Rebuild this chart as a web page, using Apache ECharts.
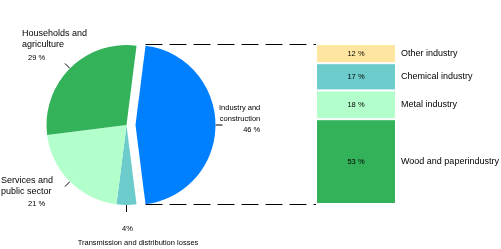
<!DOCTYPE html>
<html><head><meta charset="utf-8">
<style>html,body{margin:0;padding:0;background:#fff}#c{width:501px;height:249px}</style>
<script src="https://cdn.jsdelivr.net/npm/echarts@6/dist/echarts.min.js"></script>
</head><body><div id="c"></div>
<script>
// ---- data ----
const pieNames = ['Industry and construction', 'Transmission and distribution losses', 'Services and public sector', 'Households and agriculture'];
const pieLabelLines = [['Industry and', 'construction'], ['Transmission and distribution losses'], ['Services and', 'public sector'], ['Households and', 'agriculture']];
const pieValues = [46, 4, 21, 29];
const pieColors = ['#0080ff', '#6ccccc', '#b3ffcc', '#33b25a'];
const explodedIndex = 0;

const barCategory = ['Industry'];
const barNames = ['Wood and paperindustry', 'Metal industry', 'Chemical industry', 'Other industry'];
const barValues = [53, 18, 17, 12];
const barColors = ['#33b25a', '#b3ffcc', '#6ccccc', '#ffe6a0'];

// ---- fonts ----
function hasFont(name) {
  const c = document.createElement('canvas').getContext('2d');
  c.font = '20px monospace';
  const a = c.measureText('Transmission and distribution').width;
  c.font = '20px "' + name + '", monospace';
  const b = c.measureText('Transmission and distribution').width;
  return Math.abs(a - b) > 0.5;
}
const NORMAL = 'Liberation Sans';
let NARROW = 'Liberation Sans', NARROW_SIZE = 7.5;
if (hasFont('Liberation Sans Narrow')) { NARROW = 'Liberation Sans Narrow'; NARROW_SIZE = 9; }

// ---- layout ----
const PIE_CX = 126.5, PIE_CY = 125, PIE_R = 80, PIE_OFFSET = 9;
const BAR_W = 80;

const chart = echarts.init(document.getElementById('c'), null, {renderer: 'canvas'});

const nStyle = {fontFamily: NORMAL, fontSize: 9, color: '#000', lineHeight: 11};
const pStyle = {fontFamily: NARROW, fontSize: NARROW_SIZE, color: '#000', lineHeight: 11};

const labelPlace = [
  {x: 219, y: 102.5, align: 'left'},
  {x: 138, y: 222, align: 'center'},
  {x: 1, y: 175.5, align: 'left'},
  {x: 22, y: 28.5, align: 'left'}
];

function pieFormatter(p) {
  const i = p.dataIndex;
  const pct = p.value + ' %';
  const lines = pieLabelLines[i];
  if (i === 0) return '{na|' + lines[0] + '}\n{na|' + lines[1] + '}\n{pa|' + pct + '}';
  if (i === 1) return '{p4|' + p.value + '%}\n{nt|' + lines[0] + '}';
  if (i === 2) return '{n|' + lines[0] + '}\n{n|' + lines[1] + '}\n{p21|' + pct + '}';
  return '{n|' + lines[0] + '}\n{n|' + lines[1] + '}\n{p29|' + pct + '}';
}

const startAngle = 90 - (180 - pieValues[explodedIndex] / 100 * 360) / 2;

function pieSeries(cx, showExploded) {
  return {
    type: 'pie',
    center: [cx, PIE_CY],
    radius: PIE_R,
    startAngle: startAngle,
    clockwise: true,
    animation: false,
    silent: true,
    emphasis: {disabled: true},
    avoidLabelOverlap: false,
    itemStyle: {borderWidth: 0},
    data: pieValues.map((v, i) => {
      const visible = (i === explodedIndex) === showExploded;
      return {
        value: v, name: pieNames[i],
        itemStyle: {color: visible ? pieColors[i] : 'rgba(0,0,0,0)'},
        label: {show: visible},
        labelLine: {show: visible}
      };
    }),
    label: {
      show: true, position: 'outside', formatter: pieFormatter,
      rich: {
        n: Object.assign({}, nStyle, {align: 'left'}),
        na: Object.assign({}, pStyle, {align: 'right'}),
        pa: Object.assign({}, pStyle, {align: 'right'}),
        nt: Object.assign({}, pStyle, {align: 'center', lineHeight: 14}),
        p4: Object.assign({}, pStyle, {align: 'center', lineHeight: 14, padding: [0, 21, 0, 0]}),
        p21: Object.assign({}, pStyle, {align: 'left', lineHeight: 13, padding: [0, 0, 0, 27]}),
        p29: Object.assign({}, pStyle, {align: 'left', lineHeight: 14, padding: [0, 0, 0, 6]})
      }
    },
    labelLine: {show: true, length: 7, length2: 0, lineStyle: {color: '#000', width: 1}},
    labelLayout: function (p) {
      const lp = labelPlace[p.dataIndex];
      return {x: lp.x, y: lp.y, align: lp.align, verticalAlign: 'top', labelLinePoints: p.labelLinePoints};
    }
  };
}

const series = [pieSeries(PIE_CX, false), pieSeries(PIE_CX + PIE_OFFSET, true)];

barValues.forEach((v, i) => {
  series.push({
    type: 'bar', name: barNames[i], stack: 'vals', xAxisIndex: 0, yAxisIndex: 0,
    barWidth: BAR_W, barGap: '-100%', animation: false, emphasis: {disabled: true},
    data: [v],
    itemStyle: {color: barColors[i], borderColor: '#fff', borderWidth: 1},
    label: {show: true, position: 'inside', formatter: '{c} %', color: '#000', fontFamily: NARROW, fontSize: NARROW_SIZE}
  });
});
barValues.forEach((v, i) => {
  series.push({
    type: 'bar', name: barNames[i] + ' ', stack: 'names', xAxisIndex: 0, yAxisIndex: 0,
    barWidth: BAR_W, barGap: '-100%', animation: false, emphasis: {disabled: true}, silent: true,
    data: [v],
    itemStyle: {color: 'rgba(0,0,0,0)'},
    label: {show: true, position: 'right', distance: 5, formatter: barNames[i], color: '#000', fontFamily: NORMAL, fontSize: 9}
  });
});

chart.setOption({
  animation: false,
  backgroundColor: '#fff',
  grid: {left: 316, top: 44, width: BAR_W, height: 160},
  xAxis: {type: 'category', data: barCategory, show: false},
  yAxis: {type: 'value', min: 0, max: 100, show: false},
  series: series
});

// dashed connectors between the exploded slice and the stacked bar
const yTop = chart.convertToPixel({yAxisIndex: 0}, 100);
const yBot = chart.convertToPixel({yAxisIndex: 0}, 0);
const xMid = chart.convertToPixel({xAxisIndex: 0}, barCategory[0]);
const barLeft = xMid - BAR_W / 2;
const half = pieValues[explodedIndex] / 100 * Math.PI;
const xStart = PIE_CX + PIE_OFFSET + PIE_R * Math.cos(half);
const dash = {stroke: '#000', lineWidth: 1, lineDash: [17, 7]};
chart.setOption({
  graphic: [
    {type: 'line', silent: true, shape: {x1: xStart, y1: Math.round(yTop) + 0.5, x2: barLeft, y2: Math.round(yTop) + 0.5}, style: dash},
    {type: 'line', silent: true, shape: {x1: xStart, y1: Math.round(yBot) + 0.5, x2: barLeft, y2: Math.round(yBot) + 0.5}, style: dash}
  ]
});
</script></body></html>
